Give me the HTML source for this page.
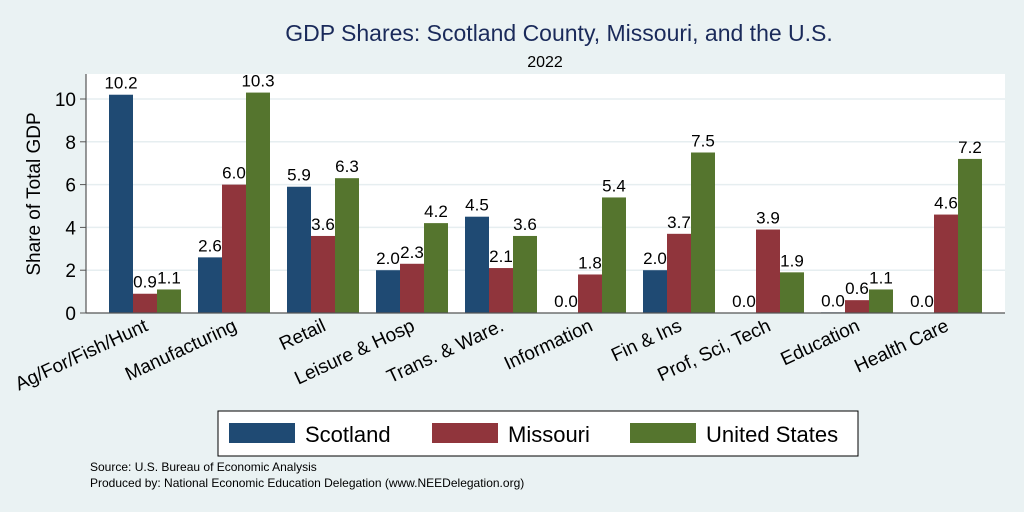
<!DOCTYPE html>
<html><head><meta charset="utf-8"><style>
body{margin:0;background:#eaf2f3;}
svg{display:block;font-family:"Liberation Sans",Arial,sans-serif;}
</style></head><body>
<svg id="chart" width="1024" height="512">
<rect x="0" y="0" width="1024" height="512" fill="#eaf2f3"/>
<rect x="86" y="74" width="919" height="239" fill="#ffffff"/>
<text x="559" y="41" font-size="23" fill="#1a2a5a" text-anchor="middle">GDP Shares: Scotland County, Missouri, and the U.S.</text>
<text x="545" y="67" font-size="16" fill="#000" text-anchor="middle">2022</text>
<text transform="translate(40,194) rotate(-90)" font-size="19" text-anchor="middle">Share of Total GDP</text>
<g id="grid"></g><g id="bars"></g><g id="xlabels"></g>
<line x1="86" y1="74" x2="86" y2="313" stroke="#555" stroke-width="1.2"/>
<line x1="86" y1="313" x2="1005" y2="313" stroke="#555" stroke-width="1.2"/>
<g>
<rect x="218" y="411" width="640" height="45" fill="#fff" stroke="#000" stroke-width="1"/>
<rect x="229" y="423" width="66" height="20" fill="#1f4a73"/>
<text x="305" y="442" font-size="22">Scotland</text>
<rect x="432" y="423" width="66" height="20" fill="#90353c"/>
<text x="508" y="442" font-size="22">Missouri</text>
<rect x="630" y="423" width="66" height="20" fill="#55752e"/>
<text x="706" y="442" font-size="22">United States</text>
</g>
<text x="90" y="471" font-size="12">Source: U.S. Bureau of Economic Analysis</text>
<text x="90" y="487" font-size="12">Produced by: National Economic Education Delegation (www.NEEDelegation.org)</text>
</svg>
<script>
const categories=["Ag/For/Fish/Hunt","Manufacturing","Retail","Leisure & Hosp","Trans. & Ware.","Information","Fin & Ins","Prof, Sci, Tech","Education","Health Care"];
const scotland=[10.2,2.6,5.9,2.0,4.5,0.0,2.0,0.0,0.03,0.0];
const missouri=[0.9,6.0,3.6,2.3,2.1,1.8,3.7,3.9,0.6,4.6];
const unitedStates=[1.1,10.3,6.3,4.2,3.6,5.4,7.5,1.9,1.1,7.2];
const yTicks=[0,2,4,6,8,10];
const NS="http://www.w3.org/2000/svg";
function y(v){return 313-v*21.4;}
function gx(i){return 109+i*89;}
function mk(tag,attrs,parent){const e=document.createElementNS(NS,tag);for(const k in attrs)e.setAttribute(k,attrs[k]);parent.appendChild(e);return e;}
const grid=document.getElementById('grid'),bars=document.getElementById('bars'),xl=document.getElementById('xlabels');
yTicks.forEach(t=>{
 if(t>0){const l=mk('line',{x1:86,x2:1005,y1:y(t),y2:y(t),stroke:'#e6eef0','stroke-width':1.5},grid);
 
 }
 const tk=mk('line',{x1:80,x2:86,y1:y(t),y2:y(t),stroke:'#555'},grid);
 
 
 const tx=mk('text',{x:76,y:y(t)+7,'font-size':19,'text-anchor':'end'},grid);tx.textContent=t;
 
 
});
const series=[[scotland,'#1f4a73','scotland'],[missouri,'#90353c','missouri'],[unitedStates,'#55752e','us']];
categories.forEach((c,i)=>{
 series.forEach(([arr,col,nm],s)=>{
  const v=arr[i],x=gx(i)+s*24;
  const r=mk('rect',{x:x,y:y(v),width:24,height:313-y(v),fill:col},bars);
  
  
  const t=mk('text',{x:x+12,y:y(v)-6,'font-size':17,'text-anchor':'middle'},bars);t.textContent=v.toFixed(1);
  
  
 });
 const cx=gx(i)+40;
 const lt=mk('text',{transform:'translate('+cx+',330) rotate(-25)','font-size':19,'text-anchor':'end'},xl);lt.textContent=c;
 
 
});
</script>
</body></html>
